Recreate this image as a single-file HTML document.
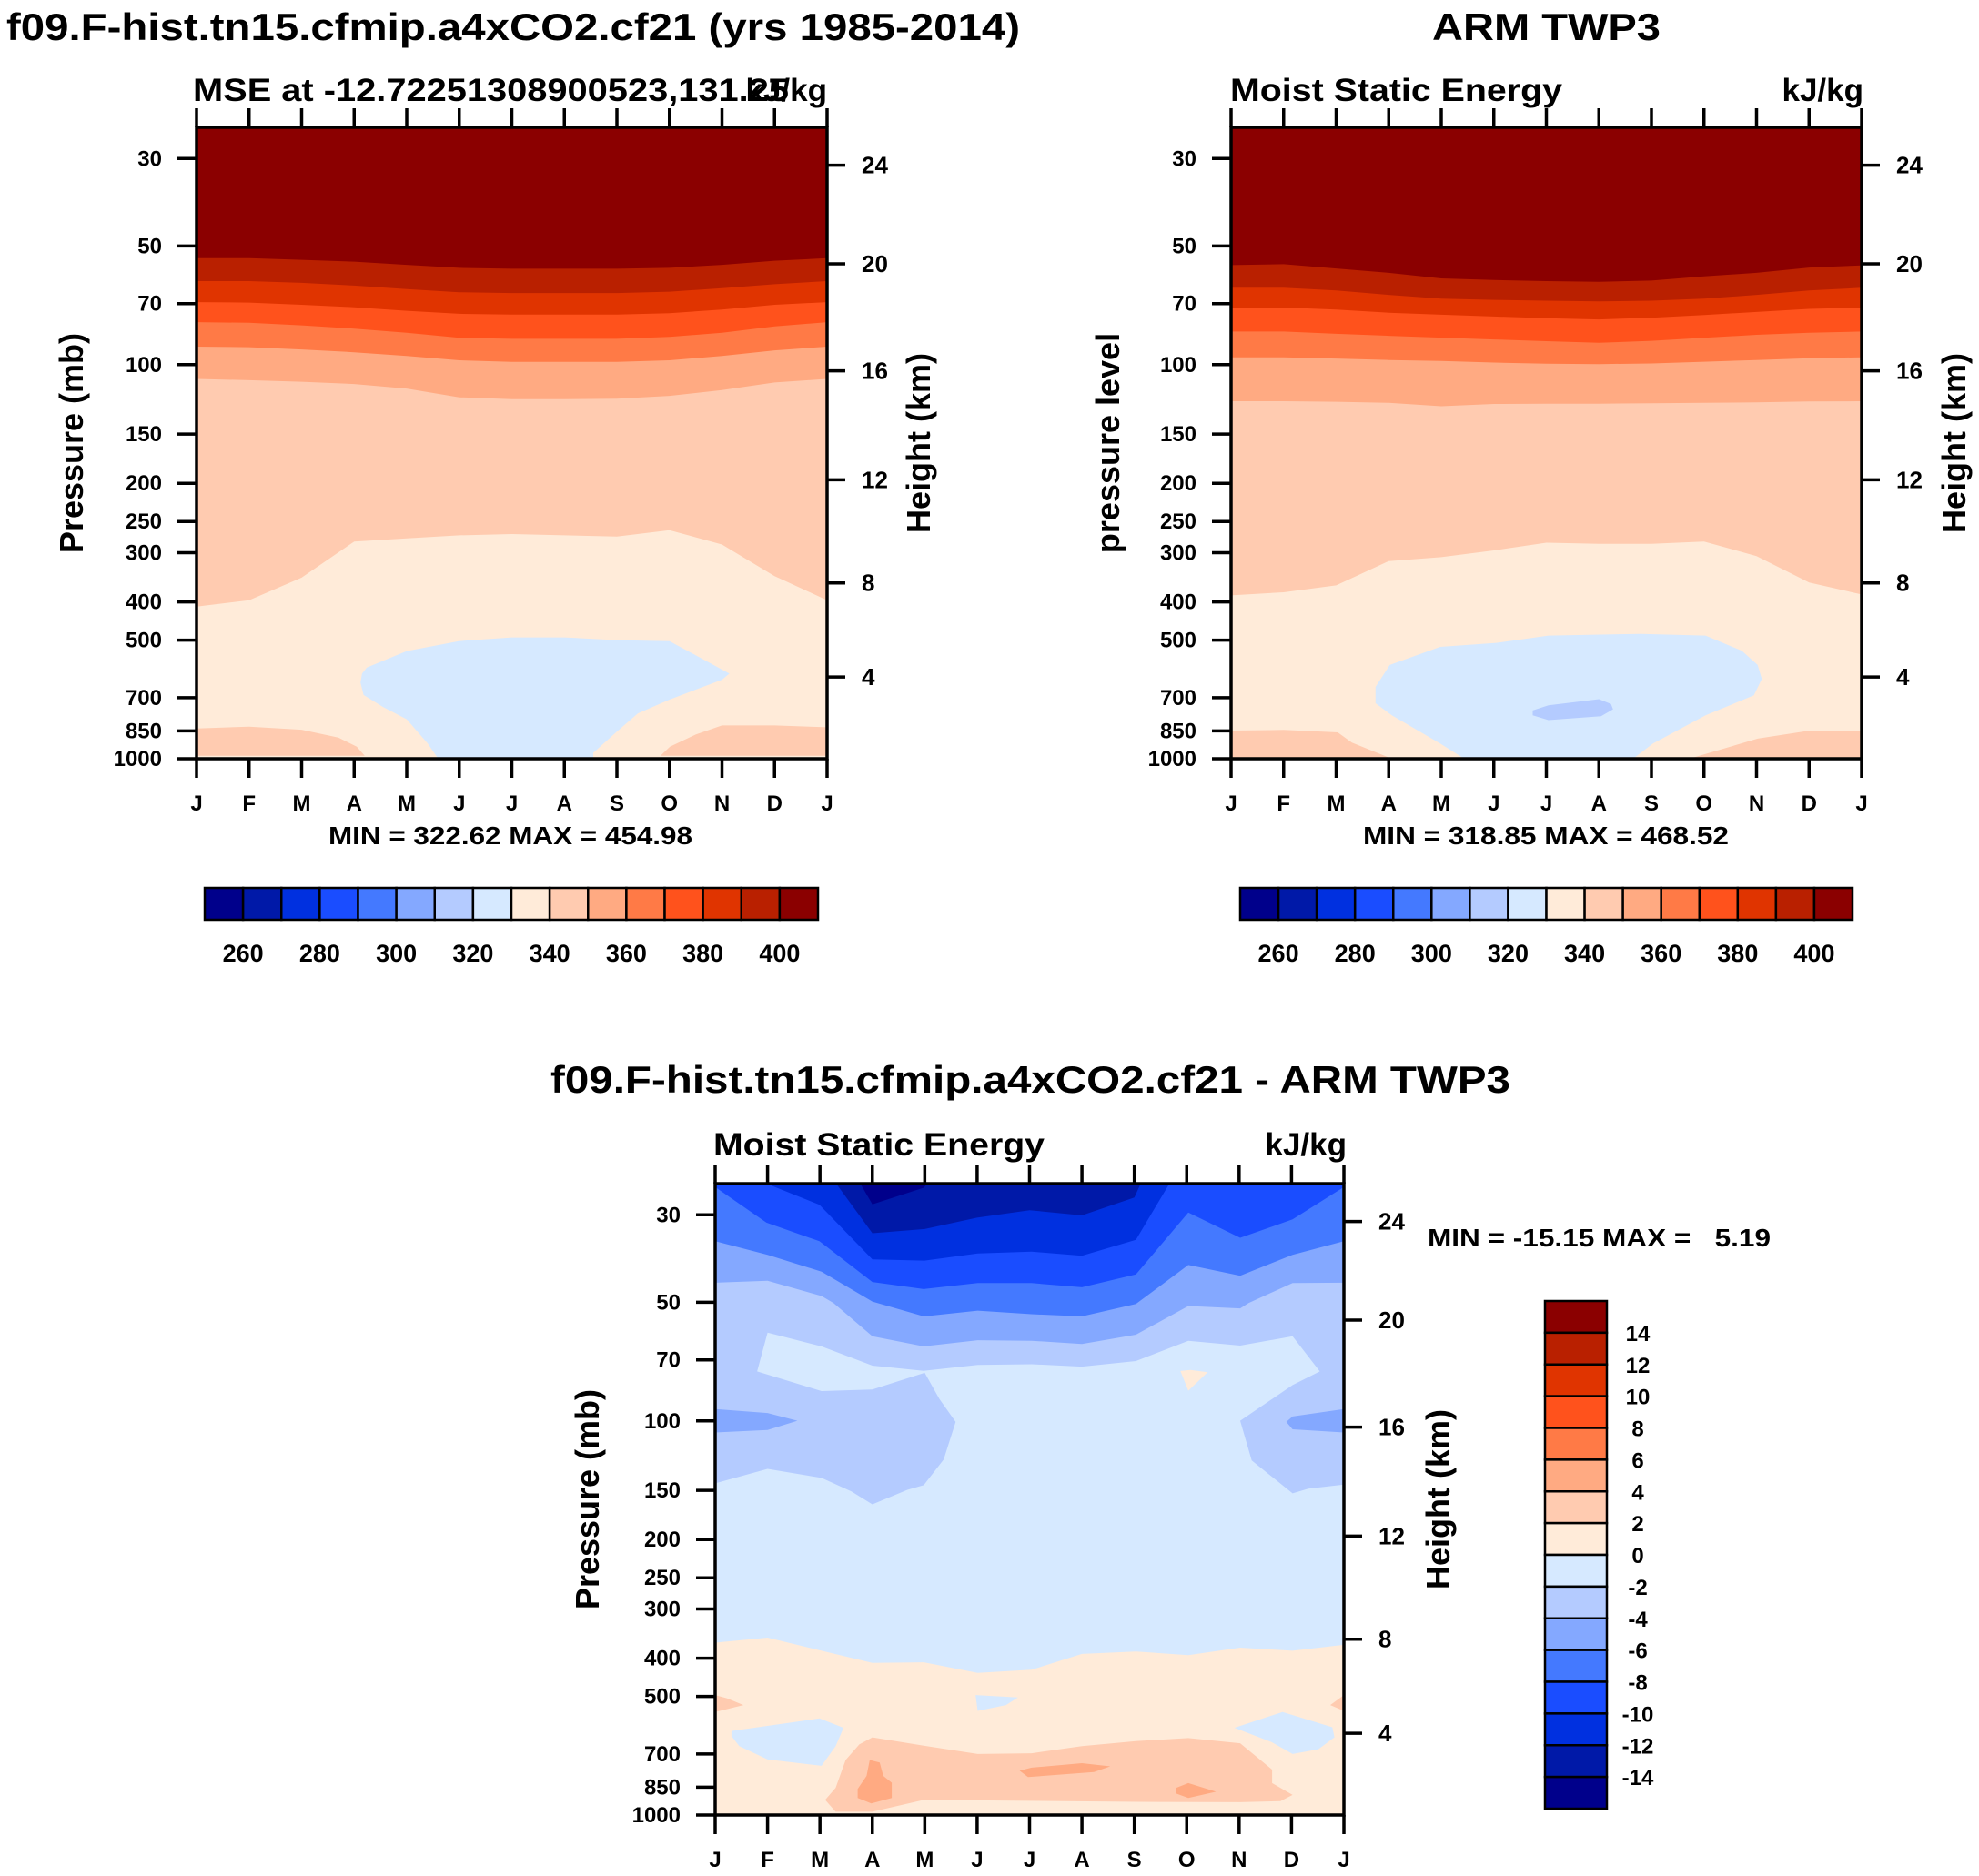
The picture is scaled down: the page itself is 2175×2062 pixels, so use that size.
<!DOCTYPE html>
<html><head><meta charset="utf-8"><style>
html,body{margin:0;padding:0;background:#fff}
svg text{font-family:"Liberation Sans",Arial,sans-serif;font-weight:bold;fill:#000}
</style></head><body>
<svg id="fig" xmlns="http://www.w3.org/2000/svg" width="2175" height="2057" viewBox="0 0 2175 2057">
<rect x="0" y="0" width="2175" height="2057" fill="#fff"/>
</svg>
<script>
const monthLabels = ['J','F','M','A','M','J','J','A','S','O','N','D','J'];
const monthIdx = [0,1,2,3,4,5,6,7,8,9,10,11,12];
const pressTicks = [30,50,70,100,150,200,250,300,400,500,700,850,1000];
const heightTicks = [4,8,12,16,20,24];
const heightTickPress = [620,358,196,103.7,55.5,31.2];
const palette = ['#00008b','#0019a8','#0030e0','#1a4dff','#4479ff','#84a8ff','#b4cbff','#d6e9ff','#ffebd9','#ffcbb0','#ffaa82','#ff7a46','#ff521c','#e03400','#b92000','#8b0000'];
const mseBarLabels = [260,280,300,320,340,360,380,400];
const diffBarLabels = [14,12,10,8,6,4,2,0,-2,-4,-6,-8,-10,-12,-14];

// Panel 1 (model MSE) contour boundary pressures per month
const p1L400 = [53.7,53.7,54.2,54.8,55.8,56.8,57.1,57.1,57.1,56.8,55.8,54.5,53.7];
const p1L390 = [61.4,61.4,62,63,64.3,65.5,65.8,65.8,65.8,65.3,64,62.5,61.4];
const p1L380 = [69.4,69.6,70.5,71.5,73,74.3,74.6,74.6,74.6,74,72.5,70.5,69.4];
const p1L370 = [78,78.3,79.5,81,83,85.5,86,86,86,85,83,80,78];
const p1L360 = [90,90.3,91.5,93,95,97.5,98.4,98.4,98.4,97.5,95,92,90];
const p1L350 = [108.7,109.5,110.5,112,115,121,122.3,122.3,122,120,116,111,108.7];
const p1L340 = [411,396,347,281,276,271,269,271,273,263,286,344,396];
const p1BlueM = [3.15,3.24,4.0,4.99,6.0,7.0,8.0,9.0,9.5,10.14,10.0,9.0,8.4,8.0,7.55,7.55,4.6,4.4,4.0,3.55,3.18,3.12];
const p1BlueP = [608,587,533,503,492,492,500,503,546,608,630,708,767,853,966,1000,1000,915,794,739,689,641];
const p1OrLM = [0,1,2,2.7,3.05,3.2,0];
const p1OrLP = [838,829,844,884,932,983,983];
const p1OrRM = [8.83,9.01,9.5,10,11,12,12];
const p1OrRP = [983,932,868,823,823,832,983];

// Panel 2 (ARM TWP3)
const p2L400 = [55.9,55.6,57,58.5,60.4,61,61.4,61.6,61.2,59.7,58.5,56.7,56.0];
const p2L390 = [63.8,63.8,64.8,66.5,68,68.5,68.8,69.1,68.8,68,66.5,64.8,63.8];
const p2L380 = [71.6,71.6,72.5,73.8,74.7,75.5,76.2,76.8,76,74.8,73.5,72.2,71.6];
const p2L370 = [82.4,82.4,83.5,84.5,85.4,86.3,87.2,88,87,85.5,84,83,82.4];
const p2L360 = [95.8,95.8,96.5,97.3,97.9,98.8,99.4,99.7,99.3,98.3,97.3,96.3,95.8];
const p2L350 = [123.8,123.8,124.2,125,127.5,125.8,125.6,125.6,125.3,125,124.6,124,123.8];
const p2L340 = [385,378,363,315,308,296,283,285,285,281,306,357,383];
const p2BlueM = [2.75,3.02,3.98,5.05,6.04,7.8,9.03,9.72,10.02,10.1,9.95,9.03,8.03,7.65,4.44,3.98,3.06,2.75];
const p2BlueP = [657,578,520,508,487,482,487,532,578,627,690,776,915,1000,1000,915,776,723];
const p2InM = [5.74,6.04,7.0,7.23,7.27,7.04,6.04,5.74];
const p2InP = [754,732,706,726,749,780,798,776];
const p2OrLM = [0,1,2.03,2.3,3.06,0];
const p2OrLP = [848,845,857,910,1000,1000];
const p2OrRM = [8.72,10.02,11.02,12,12];
const p2OrRP = [1000,889,848,848,1000];

// Panel 3 (difference)
const d3NavyM = [2.77,3.0,3.98,4.05];
const d3NavyP = [25,28.2,25.6,25];
const d3Lm12M = [2.31,3.0,4.0,5.0,6.0,7.0,8.0,8.12];
const d3Lm12P = [25,33.4,32.6,30.5,29.2,30.1,27.1,25];
const d3Lm10M = [0.98,1.99,3.0,3.99,5.01,6.04,7.0,8.03,8.67];
const d3Lm10P = [25,28.3,38.9,39.2,37.6,37.2,38.1,34.7,25];
const d3Lm8M = [0,0.98,1.99,3.0,3.98,5.01,6.04,7.0,8.03,9.03,10.02,11.02,12];
const d3Lm8P = [25.5,31.4,35.0,44.4,46.3,44.7,44.7,45.8,42.5,29.6,34.3,30.8,25.5];
const d3Lm6M = [0,1.0,2.03,3.0,3.98,5.01,6.04,7.0,8.03,9.03,10.02,11.02,12];
const d3Lm6P = [35.0,37.9,41.8,49.8,54.3,52.5,53.6,54.3,50.5,40.2,42.8,37.9,35.0];
const d3Lm4M = [0,1,2.03,2.26,3.0,3.98,5.01,6.04,7.0,8.03,9.03,10.02,10.18,11.02,12];
const d3Lm4P = [44.6,44.1,48.2,50.2,61.0,64.7,62.4,62.6,63.8,60.4,51.1,51.8,50.2,44.7,44.6];
const d3C8M = [1,2.03,3,3.98,5.01,6.04,7,8.03,9.03,10.02,11.02,11.54,11.02,10.02,10.24,11.02,11.32,12,12,0,0,1,2.03,2.6,3,3.67,3.98,4.36,4.59,4.28,4.0,3,2.03,0.8];
const d3C8P = [59.7,64.7,72.4,74.6,72.1,71.8,72.8,70.5,62.6,64.4,61.0,74.9,81.1,99.9,126,152.7,148.5,145,1000,1000,144,132.3,139.5,151,162.8,149.5,145.5,125.3,100.6,88,75.5,83.2,84,74.9];
const d3LobeLM = [0,1,1.57,1,0];
const d3LobeLP = [93.3,95.5,99.9,105.4,107];
const d3LobeRM = [12,11.02,10.9,11.02,12];
const d3LobeRP = [93.3,97.4,100.6,105,107];
const d3TriM = [8.88,9.07,9.4,9.03];
const d3TriP = [74.7,74.2,75.2,83.8];
const d3L0M = [0,1,2.03,3,3.98,5.01,6.04,7,8.03,9.03,10.02,11.02,12];
const d3L0P = [365.3,354.6,383,411,409.6,436,428,390,384.5,393,376,383,370];
const d3SmM = [4.97,5.78,5.55,5.01];
const d3SmP = [496,503,526,544];
const d3BlLM = [0.31,1.99,2.45,2.3,2.03,1,0.46,0.31];
const d3BlLP = [612,568.6,600.6,668.5,750,722.8,668.5,630];
const d3BlRM = [9.91,10.83,11.78,11.82,11.51,11.02,10.63];
const d3BlRP = [600.6,547.6,598.8,635,681,700,654];
const d3EdgeLM = [0,0.23,0.54,0];
const d3EdgeLP = [496,506,526,547.6];
const d3EdgeRM = [12,11.74,12];
const d3EdgeRP = [496,526,544];
const d3C10M = [2.1,2.3,2.49,2.75,3,3.98,5.01,6.04,7,8.03,9.03,10.02,10.63,10.63,11.02,10.79,10.02,8.03,3.98,3,2.3];
const d3C10P = [915.5,853,725,662,635,666.6,700,697,668.5,649,638,657.6,767,829.7,889,921.9,928,926,915.5,981,981];
const d3C11aM = [2.95,3.14,3.21,3.37,3.37,2.98,2.72,2.72,2.89];
const d3C11aP = [725,736,795.7,828,905.5,934.4,905.5,859,795.7];
const d3C11bM = [5.81,6.04,7,7.54,7.23,5.97];
const d3C11bP = [771.5,758,738.5,752.5,778,801];
const d3C11cM = [8.8,9.03,9.56,9.03,8.8];
const d3C11cP = [853,829.7,872.7,905.5,882];

const NS = 'http://www.w3.org/2000/svg';
const svg = document.getElementById('fig');
function mk(tag, attrs, parent){ const e=document.createElementNS(NS,tag); for(const k in attrs) e.setAttribute(k,attrs[k]); (parent||svg).appendChild(e); return e; }
function txt(s, attrs, parent){ const e=mk('text',attrs,parent); e.textContent=s; return e; }

const PTOP=25, PBOT=1000;
function xOf(ax,m){ return ax.x + m/12*ax.w; }
function yOf(ax,p){ return ax.y + (Math.log(p)-Math.log(PTOP))/(Math.log(PBOT)-Math.log(PTOP))*ax.h; }
function poly(g, ax, ms, ps, color, name){
  const pts = ms.map((m,i)=>xOf(ax,m).toFixed(1)+','+yOf(ax,ps[i]).toFixed(1)).join(' ');
  const e = mk('polygon',{points:pts,fill:color},g);
  
  
  return e;
}
function below(g, ax, ms, ps, color, name){ return poly(g, ax, ms.concat([12,0]), ps.concat([PBOT,PBOT]), color, name); }
function above(g, ax, ms, ps, color, name){ return poly(g, ax, ms.concat([ms[ms.length-1],ms[0]]), ps.concat([PTOP,PTOP]), color, name); }

function makeAxes(id, ax, opt){
  const clip = mk('clipPath',{id:id+'-clip'});
  mk('rect',{x:ax.x,y:ax.y,width:ax.w,height:ax.h},clip);
  const g = mk('g',{'clip-path':'url(#'+id+'-clip)'});
  
  
  opt.draw(g);
  const fr = mk('rect',{x:ax.x,y:ax.y,width:ax.w,height:ax.h,fill:'none',stroke:'#000','stroke-width':3.5});
  
  
  const tk = mk('g',{stroke:'#000','stroke-width':3.5});
  
  
  monthIdx.forEach((m,i)=>{
    const x=xOf(ax,m);
    mk('line',{x1:x,y1:ax.y+ax.h,x2:x,y2:ax.y+ax.h+21},tk);
    mk('line',{x1:x,y1:ax.y,x2:x,y2:ax.y-21},tk);
    const t = txt(monthLabels[i],{x:x,y:ax.y+ax.h+57,'text-anchor':'middle','font-size':24});
    
    
  });
  pressTicks.forEach(p=>{
    const y=yOf(ax,p);
    mk('line',{x1:ax.x,y1:y,x2:ax.x-21,y2:y},tk);
    const t = txt(String(p),{x:ax.x-38,y:y+8,'text-anchor':'end','font-size':24});
    
    
  });
  heightTicks.forEach((h,i)=>{
    const y=yOf(ax,heightTickPress[i]);
    mk('line',{x1:ax.x+ax.w,y1:y,x2:ax.x+ax.w+20,y2:y},tk);
    const t = txt(String(h),{x:ax.x+ax.w+38,y:y+9,'font-size':26});
    
    
  });
  const yl = txt(opt.ylabel,{transform:'translate('+opt.ylx+','+(ax.y+ax.h/2)+') rotate(-90)','text-anchor':'middle','font-size':36});
  
  
  const hl = txt('Height (km)',{transform:'translate('+opt.hlx+','+(ax.y+ax.h/2)+') rotate(-90)','text-anchor':'middle','font-size':36});
  
  
}

// Panel 1
const ax1 = {x:216,y:140,w:693,h:694};
makeAxes('panel1', ax1, {ylabel:'Pressure (mb)', ylx:91, hlx:1022, draw:(g)=>{
  mk('rect',{x:ax1.x,y:ax1.y,width:ax1.w,height:ax1.h,fill:palette[15]},g);
  below(g,ax1,monthIdx,p1L400,palette[14],'band-390-400');
  below(g,ax1,monthIdx,p1L390,palette[13],'band-380-390');
  below(g,ax1,monthIdx,p1L380,palette[12],'band-370-380');
  below(g,ax1,monthIdx,p1L370,palette[11],'band-360-370');
  below(g,ax1,monthIdx,p1L360,palette[10],'band-350-360');
  below(g,ax1,monthIdx,p1L350,palette[9],'band-340-350');
  below(g,ax1,monthIdx,p1L340,palette[8],'band-330-340');
  poly(g,ax1,p1BlueM,p1BlueP,palette[7],'region-320-330');
  poly(g,ax1,p1OrLM,p1OrLP,palette[9],'surface-band-left');
  poly(g,ax1,p1OrRM,p1OrRP,palette[9],'surface-band-right');
}});
// Panel 2
const ax2 = {x:1353,y:140,w:693,h:694};
makeAxes('panel2', ax2, {ylabel:'pressure level', ylx:1230, hlx:2160, draw:(g)=>{
  mk('rect',{x:ax2.x,y:ax2.y,width:ax2.w,height:ax2.h,fill:palette[15]},g);
  below(g,ax2,monthIdx,p2L400,palette[14],'band-390-400');
  below(g,ax2,monthIdx,p2L390,palette[13],'band-380-390');
  below(g,ax2,monthIdx,p2L380,palette[12],'band-370-380');
  below(g,ax2,monthIdx,p2L370,palette[11],'band-360-370');
  below(g,ax2,monthIdx,p2L360,palette[10],'band-350-360');
  below(g,ax2,monthIdx,p2L350,palette[9],'band-340-350');
  below(g,ax2,monthIdx,p2L340,palette[8],'band-330-340');
  poly(g,ax2,p2BlueM,p2BlueP,palette[7],'region-320-330');
  poly(g,ax2,p2InM,p2InP,palette[6],'region-310-320');
  poly(g,ax2,p2OrLM,p2OrLP,palette[9],'surface-band-left');
  poly(g,ax2,p2OrRM,p2OrRP,palette[9],'surface-band-right');
}});
// Panel 3
const ax3 = {x:786,y:1301,w:691,h:694};
makeAxes('panel3', ax3, {ylabel:'Pressure (mb)', ylx:658, hlx:1593, draw:(g)=>{
  mk('rect',{x:ax3.x,y:ax3.y,width:ax3.w,height:ax3.h,fill:palette[6]},g);
  poly(g,ax3,d3C8M,d3C8P,palette[7],'region-minus2-0');
  below(g,ax3,d3L0M,d3L0P,palette[8],'region-0-2');
  poly(g,ax3,d3SmM,d3SmP,palette[7],'patch-minus2-0-mid');
  poly(g,ax3,d3BlLM,d3BlLP,palette[7],'patch-minus2-0-left');
  poly(g,ax3,d3BlRM,d3BlRP,palette[7],'patch-minus2-0-right');
  poly(g,ax3,d3EdgeLM,d3EdgeLP,palette[9],'patch-2-4-left-edge');
  poly(g,ax3,d3EdgeRM,d3EdgeRP,palette[9],'patch-2-4-right-edge');
  poly(g,ax3,d3C10M,d3C10P,palette[9],'region-2-4');
  poly(g,ax3,d3C11aM,d3C11aP,palette[10],'patch-4-6-a');
  poly(g,ax3,d3C11bM,d3C11bP,palette[10],'patch-4-6-b');
  poly(g,ax3,d3C11cM,d3C11cP,palette[10],'patch-4-6-c');
  above(g,ax3,d3Lm4M,d3Lm4P,palette[5],'region-minus6-minus4');
  above(g,ax3,d3Lm6M,d3Lm6P,palette[4],'region-minus8-minus6');
  above(g,ax3,d3Lm8M,d3Lm8P,palette[3],'region-minus10-minus8');
  above(g,ax3,d3Lm10M,d3Lm10P,palette[2],'region-minus12-minus10');
  above(g,ax3,d3Lm12M,d3Lm12P,palette[1],'region-minus14-minus12');
  poly(g,ax3,d3NavyM,d3NavyP,palette[0],'region-below-minus14');
  poly(g,ax3,d3LobeLM,d3LobeLP,palette[5],'lobe-minus6-left');
  poly(g,ax3,d3LobeRM,d3LobeRP,palette[5],'lobe-minus6-right');
  poly(g,ax3,d3TriM,d3TriP,palette[8],'patch-0-2-upper');
}});

// Titles and labels
function label(s, attrs, name){ const t=txt(s,attrs);   return t; }
label('f09.F-hist.tn15.cfmip.a4xCO2.cf21 (yrs 1985-2014)',{x:7,y:44,'font-size':42,textLength:1114,lengthAdjust:'spacingAndGlyphs'},'panel1-title');
label('ARM TWP3',{x:1574,y:44,'font-size':42,textLength:251,lengthAdjust:'spacingAndGlyphs'},'panel2-title');
label('f09.F-hist.tn15.cfmip.a4xCO2.cf21 - ARM TWP3',{x:605,y:1201,'font-size':42,textLength:1055,lengthAdjust:'spacingAndGlyphs'},'panel3-title');
label('MSE at -12.72251308900523,131.25',{x:212,y:111,'font-size':35,textLength:655,lengthAdjust:'spacingAndGlyphs'},'panel1-subtitle');
label('kJ/kg',{x:909,y:111,'font-size':35,'text-anchor':'end'},'panel1-units');
label('Moist Static Energy',{x:1352,y:111,'font-size':35,textLength:365,lengthAdjust:'spacingAndGlyphs'},'panel2-subtitle');
label('kJ/kg',{x:2048,y:111,'font-size':35,'text-anchor':'end'},'panel2-units');
label('Moist Static Energy',{x:784,y:1270,'font-size':35,textLength:364,lengthAdjust:'spacingAndGlyphs'},'panel3-subtitle');
label('kJ/kg',{x:1480,y:1270,'font-size':35,'text-anchor':'end'},'panel3-units');
label('MIN = 322.62 MAX = 454.98',{x:361,y:928,'font-size':28,textLength:400,lengthAdjust:'spacingAndGlyphs'},'panel1-minmax');
label('MIN = 318.85 MAX = 468.52',{x:1498,y:928,'font-size':28,textLength:402,lengthAdjust:'spacingAndGlyphs'},'panel2-minmax');
label('MIN = -15.15 MAX = \u00a0\u00a05.19',{x:1569,y:1370,'font-size':28,textLength:377,lengthAdjust:'spacingAndGlyphs'},'panel3-minmax');

// Horizontal colorbars
function hbar(x0,x1,y0,y1,name){
  const g = mk('g',{});  
  const bw=(x1-x0)/palette.length;
  palette.forEach((c,i)=>{ mk('rect',{x:x0+i*bw,y:y0,width:bw,height:y1-y0,fill:c,stroke:'#000','stroke-width':2.5},g); });
  mseBarLabels.forEach((v,i)=>{ const t=txt(String(v),{x:x0+(1+2*i)*bw,y:y1+46,'text-anchor':'middle','font-size':27},g);   });
}
hbar(225,899,976,1011,'panel1-colorbar');
hbar(1363,2036,976,1011,'panel2-colorbar');
// Vertical colorbar
(function(){
  const x0=1698,x1=1766,y0=1430,y1=1988;
  const g = mk('g',{});  
  const bh=(y1-y0)/palette.length;
  palette.slice().reverse().forEach((c,i)=>{ mk('rect',{x:x0,y:y0+i*bh,width:x1-x0,height:bh,fill:c,stroke:'#000','stroke-width':2.5},g); });
  diffBarLabels.forEach((v,i)=>{ const t=txt(String(v),{x:1800,y:y0+(i+1)*bh+9,'text-anchor':'middle','font-size':24},g);   });
})();
</script>
</body></html>
